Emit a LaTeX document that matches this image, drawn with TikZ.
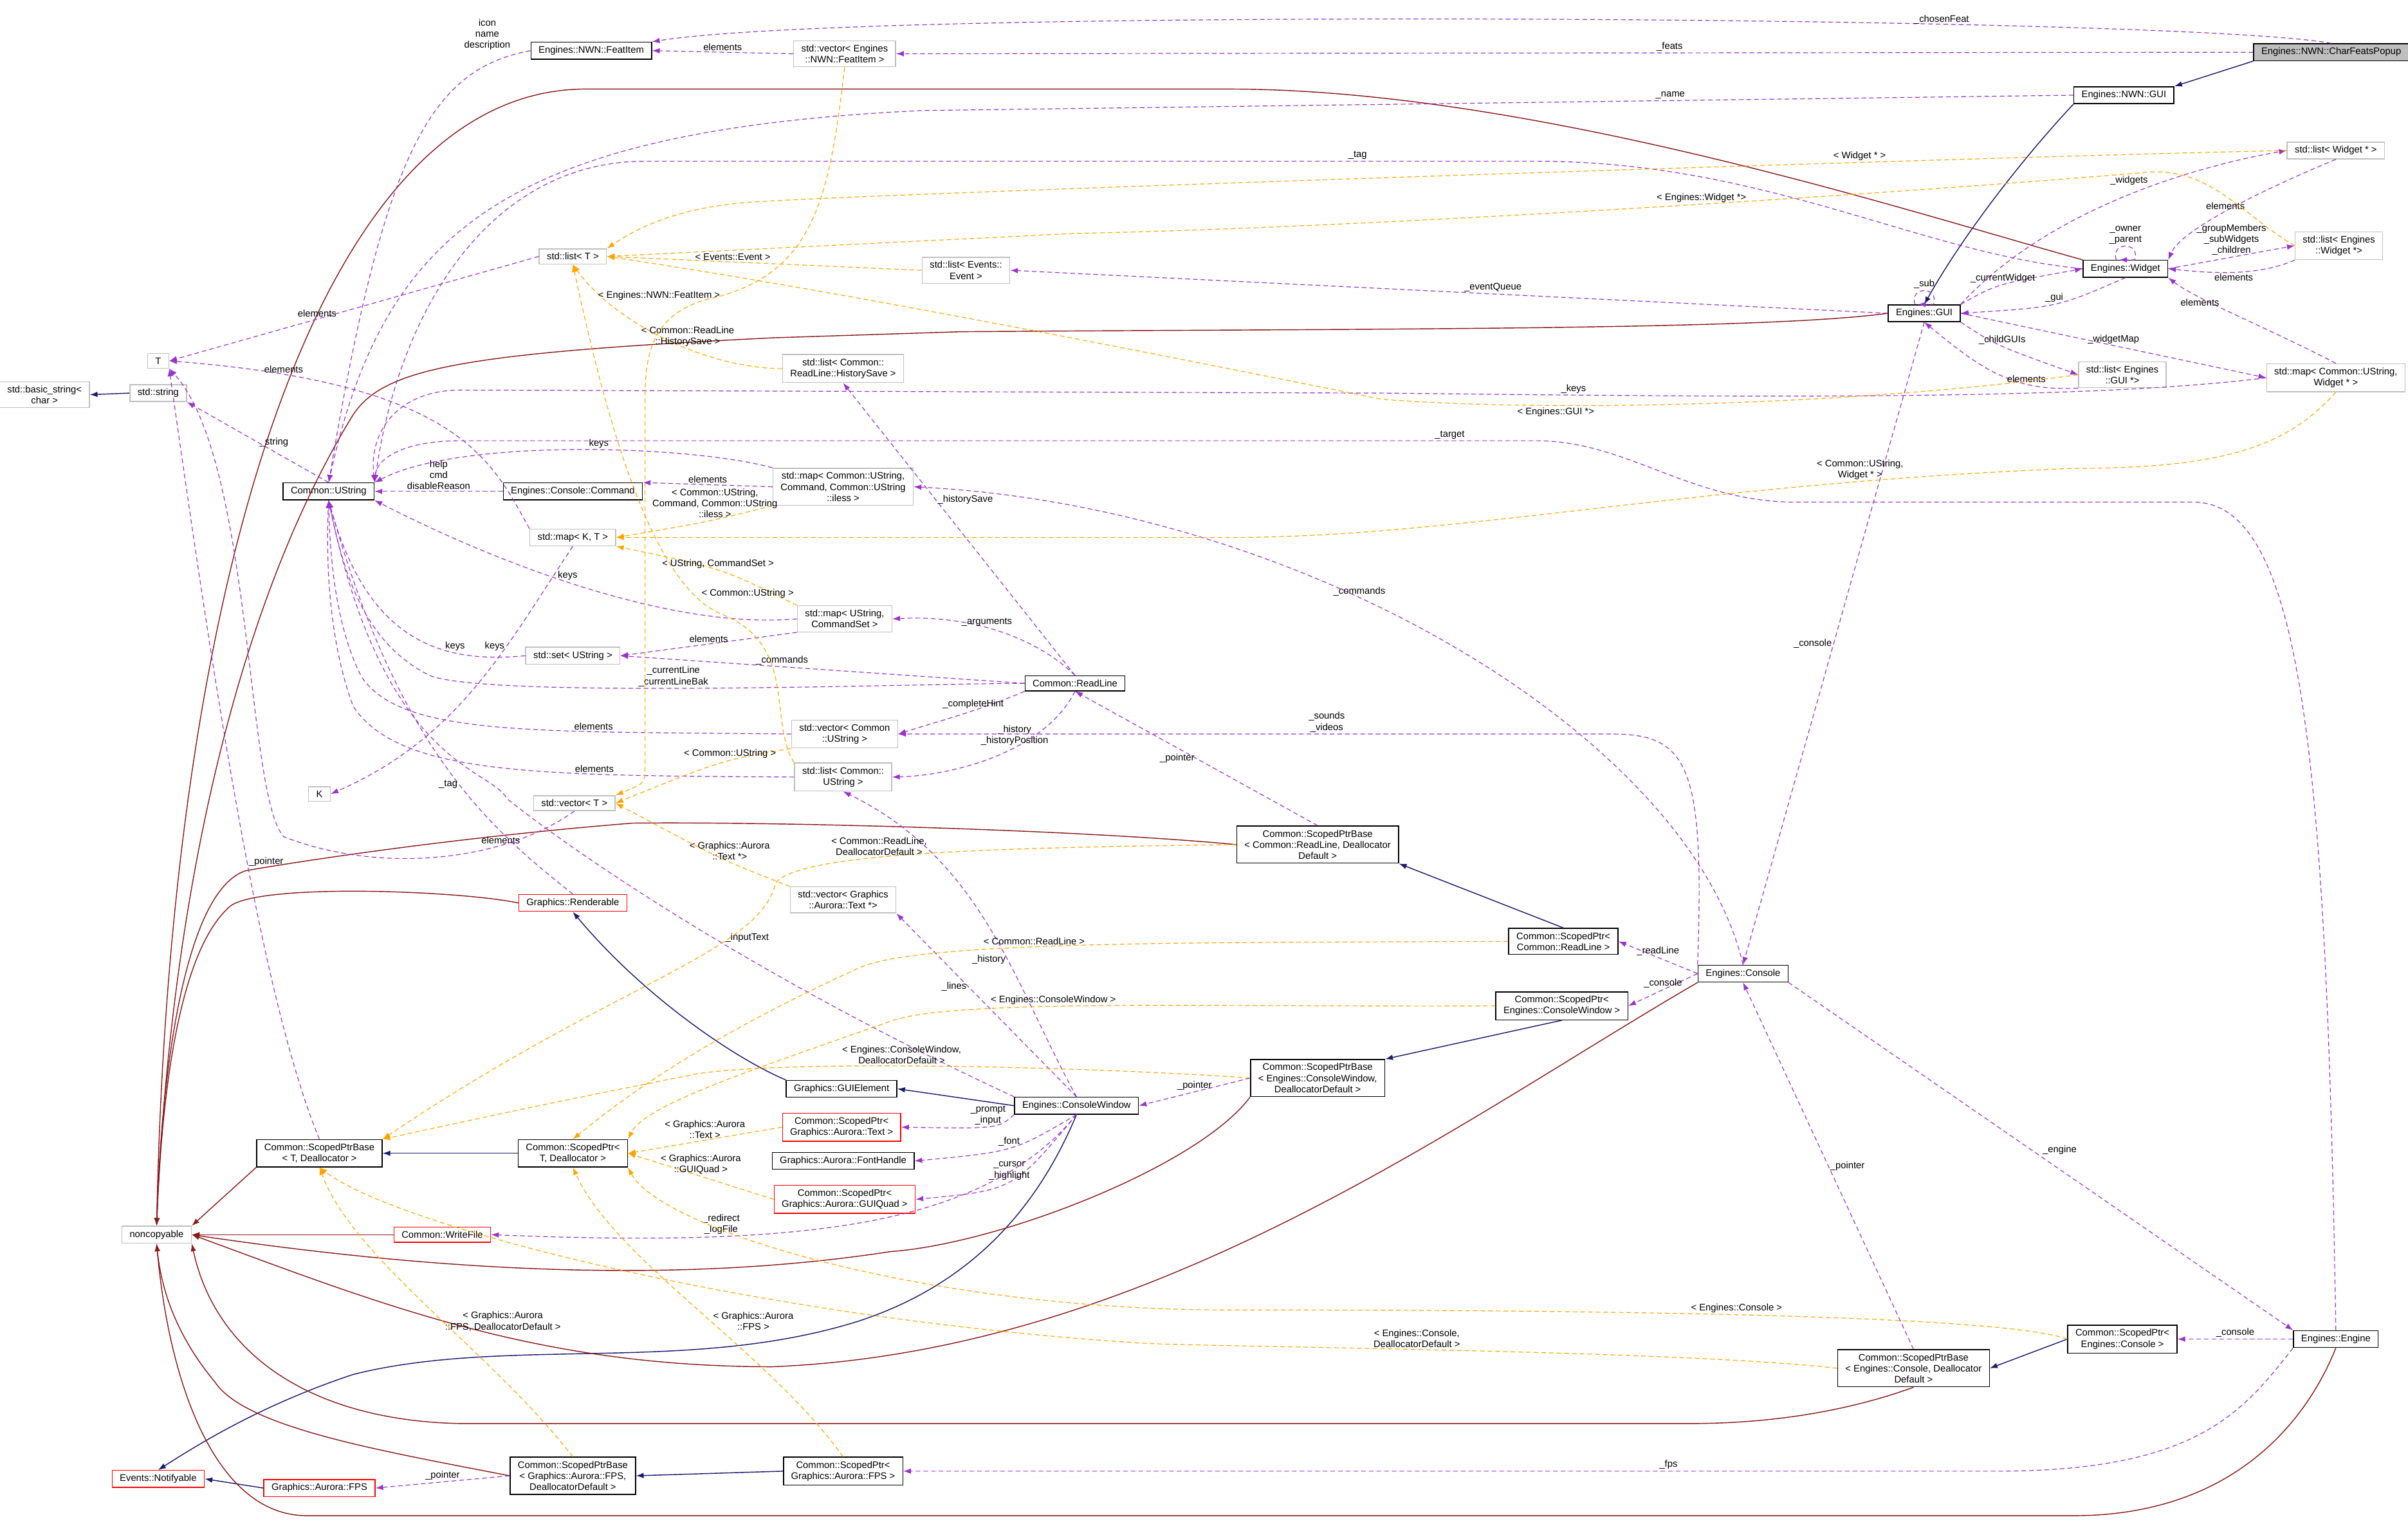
\documentclass[tikz,border=0pt]{standalone}
\usepackage{fontspec}
\setmainfont{Liberation Sans}
\usetikzlibrary{arrows.meta}
\definecolor{usecol}{HTML}{9A32CD}
\definecolor{tplcol}{HTML}{FFA500}
\definecolor{inhcol}{HTML}{191970}
\definecolor{privcol}{HTML}{8B1A1A}
\definecolor{extcol}{HTML}{BFBFBF}
\tikzset{
  box/.style={draw, line width=0.6pt, font=\fontsize{6.2}{7.2}\selectfont, align=center,
    inner xsep=5pt, inner ysep=2.6pt},
  cls/.style={box, draw=black},
  ext/.style={box, draw=extcol},
  redcls/.style={box, draw=red},
  rootcls/.style={box, draw=black, fill=extcol},
  lbl/.style={font=\fontsize{6.2}{7.2}\selectfont, align=center, inner sep=1pt, text=black},
  tip/.style={-{Latex[length=5pt,width=3.6pt]}},
  use/.style={tip, usecol, dashed, dash pattern=on 3pt off 2pt, line width=0.5pt},
  tpl/.style={tip, tplcol, dashed, dash pattern=on 3pt off 2pt, line width=0.5pt},
  inh/.style={tip, inhcol, line width=0.6pt},
  priv/.style={tip, privcol, line width=0.6pt}
}
\begin{document}
\begin{tikzpicture}[x=1pt, y=-1pt]
\useasboundingbox (0,0) rectangle (1568,992);

% classes
\node[rootcls] (popup) at (1518,34) {Engines::NWN::CharFeatsPopup};
\node[cls] (nwngui) at (1383,62) {Engines::NWN::GUI};
\node[cls] (feat) at (385,33) {Engines::NWN::FeatItem};
\node[ext] (vecfeat) at (550,35) {std::vector< Engines\\::NWN::FeatItem >};
\node[ext] (listwp) at (1521,98) {std::list< Widget * >};
\node[ext] (listew) at (1523,160) {std::list< Engines\\::Widget *>};
\node[cls] (widget) at (1384,175) {Engines::Widget};
\node[cls] (gui) at (1253,204) {Engines::GUI};
\node[ext] (listev) at (629,176) {std::list< Events::\\Event >};
\node[ext] (listt) at (373,167) {std::list< T >};
\node[ext] (tt) at (103,235) {T};
\node[ext] (bstr) at (29,257) {std::basic\_string<\\char >};
\node[ext] (str) at (103,256) {std::string};
\node[ext] (lisths) at (549,240) {std::list< Common::\\ReadLine::HistorySave >};
\node[ext] (listgui) at (1382,244) {std::list< Engines\\::GUI *>};
\node[ext] (mapwid) at (1521,246) {std::map< Common::UString,\\Widget * >};
\node[cls] (ustr) at (214,320) {Common::UString};
\node[cls] (cmd) at (373,320) {Engines::Console::Command};
\node[ext] (mapcmd) at (549,317) {std::map< Common::UString,\\Command, Common::UString\\::iless >};
\node[ext] (mapkt) at (373,350) {std::map< K, T >};
\node[ext] (mapcs) at (550,403) {std::map< UString,\\CommandSet >};
\node[ext] (setu) at (373,427) {std::set< UString >};
\node[cls] (readline) at (700,445) {Common::ReadLine};
\node[ext] (vecu) at (550,478) {std::vector< Common\\::UString >};
\node[ext] (listu) at (549,506) {std::list< Common::\\UString >};
\node[ext] (kk) at (208,517) {K};
\node[ext] (vect) at (374,523) {std::vector< T >};
\node[cls] (spbrl) at (858,550) {Common::ScopedPtrBase\\< Common::ReadLine, Deallocator\\Default >};
\node[ext] (vectext) at (549,586) {std::vector< Graphics\\::Aurora::Text *>};
\node[redcls] (rend) at (373,588) {Graphics::Renderable};
\node[cls] (sprl) at (1018,613) {Common::ScopedPtr<\\Common::ReadLine >};
\node[cls] (console) at (1135,634) {Engines::Console};
\node[cls] (spcw) at (1017,655) {Common::ScopedPtr<\\Engines::ConsoleWindow >};
\node[cls] (spbcw) at (858,702) {Common::ScopedPtrBase\\< Engines::ConsoleWindow,\\DeallocatorDefault >};
\node[cls] (guiel) at (548,709) {Graphics::GUIElement};
\node[cls] (cwin) at (701,720) {Engines::ConsoleWindow};
\node[redcls] (sptext) at (548,734) {Common::ScopedPtr<\\Graphics::Aurora::Text >};
\node[cls] (spbtd) at (208,751) {Common::ScopedPtrBase\\< T, Deallocator >};
\node[cls] (sptd) at (373,751) {Common::ScopedPtr<\\T, Deallocator >};
\node[cls] (fonth) at (549,756) {Graphics::Aurora::FontHandle};
\node[redcls] (spquad) at (550,781) {Common::ScopedPtr<\\Graphics::Aurora::GUIQuad >};
\node[ext] (noncopy) at (102,804) {noncopyable};
\node[redcls] (wfile) at (288,804) {Common::WriteFile};
\node[cls] (engine) at (1521,872) {Engines::Engine};
\node[cls] (spcon) at (1382,872) {Common::ScopedPtr<\\Engines::Console >};
\node[cls] (spbcon) at (1246,891) {Common::ScopedPtrBase\\< Engines::Console, Deallocator\\Default >};
\node[redcls] (notif) at (103,963) {Events::Notifyable};
\node[redcls] (fps) at (208,969) {Graphics::Aurora::FPS};
\node[cls] (spbfps) at (373,961) {Common::ScopedPtrBase\\< Graphics::Aurora::FPS,\\DeallocatorDefault >};
\node[cls] (spfps) at (549,958) {Common::ScopedPtr<\\Graphics::Aurora::FPS >};

% inheritance
\draw[inh] (popup.south west) -- (nwngui.north east);
\draw[inh] (nwngui.south west) .. controls (1320,100) and (1280,150) .. (gui.north);
\draw[inh] (str.west) -- (bstr.east);
\draw[inh] (sprl.north) -- (spbrl.south east);
\draw[inh] (spcw.south) -- (spbcw.north east);
\draw[inh] (cwin.west) -- (guiel.east);
\draw[inh] (guiel.north west) .. controls (480,690) and (420,650) .. (rend.south);
\draw[inh] (sptd.west) -- (spbtd.east);
\draw[inh] (spcon.west) -- (spbcon.east);
\draw[inh] (spfps.west) -- (spbfps.east);
\draw[inh] (fps.west) -- (notif.east);
\draw[inh] (cwin.south) .. controls (670,800) and (620,840) .. (560,860) .. controls (450,895) and (330,870) .. (230,895) .. controls (170,915) and (130,940) .. (notif.north);

% private inheritance
\draw[priv] (widget.north west) .. controls (1250,140) and (1000,58) .. (800,58) -- (380,58) .. controls (200,60) and (110,400) .. (noncopy.north);
\draw[priv] (gui.west) .. controls (1150,215) and (900,214) .. (626,216) -- (503,220) .. controls (300,230) and (250,240) .. (230,270) .. controls (150,400) and (110,600) .. (noncopy.north);
\draw[priv] (spbrl.west) .. controls (700,540) and (500,535) .. (412,536) .. controls (300,545) and (200,560) .. (160,567) .. controls (120,580) and (105,700) .. (noncopy.north);
\draw[priv] (rend.west) .. controls (300,580) and (170,575) .. (150,590) .. controls (115,620) and (105,720) .. (noncopy.north);
\draw[priv] (spbtd.south west) -- (noncopy.north east);
\draw[priv] (wfile.west) -- (noncopy.east);
\draw[priv] (spbcw.south west) .. controls (780,760) and (650,810) .. (580,815) .. controls (450,835) and (300,830) .. (noncopy.east);
\draw[priv] (console.south west) .. controls (950,730) and (750,880) .. (503,890) .. controls (350,890) and (250,850) .. (noncopy.east);
\draw[priv] (spbcon.south) .. controls (1200,920) and (1150,927) .. (1100,927) -- (300,927) .. controls (200,925) and (140,880) .. (noncopy.south east);
\draw[priv] (spbfps.west) .. controls (250,945) and (160,930) .. (140,900) .. controls (115,870) and (105,840) .. (noncopy.south);
\draw[priv] (engine.south) .. controls (1500,930) and (1450,987) .. (1350,987) -- (200,987) .. controls (140,987) and (110,900) .. (noncopy.south);

% usage
\draw[use] (popup.north) .. controls (1420,10) and (560,5) .. node[lbl,pos=.3,above=-1pt]{\_chosenFeat} (feat.north east);
\draw[use] (popup.west) -- node[lbl,pos=.43,above]{\_feats} (vecfeat.east);
\draw[use] (vecfeat.west) -- node[lbl,above]{elements} (feat.east);
\draw[use] (feat.west) .. controls (280,45) and (250,100) .. node[lbl,pos=.02,above left,xshift=-8pt]{icon\\name\\description} (ustr.north);
\draw[use] (nwngui.west) -- node[lbl,pos=.35,above]{\_name} (600,72) .. controls (330,85) and (250,150) .. (ustr.north);
\draw[use] (widget.west) .. controls (1250,165) and (1150,105) .. (1000,105) -- node[lbl,pos=.2,above]{\_tag} (420,105) .. controls (320,105) and (260,200) .. (ustr.north east);
\draw[use] ([xshift=-6pt]widget.north) .. controls +(-4,-12) and +(4,-12) .. node[lbl,above]{\_owner\\\_parent} ([xshift=6pt]widget.north) -- ([xshift=-4pt]widget.north);
\draw[use] (gui.north east) .. controls (1330,140) and (1420,110) .. node[lbl,pos=.6,above left]{\_widgets} (listwp.west);
\draw[use] (listwp.south) .. controls (1470,125) and (1420,150) .. node[lbl,pos=.4,below left]{elements} (widget.north east);
\draw[use] (widget.east) -- node[lbl,above]{\_groupMembers\\\_subWidgets\\\_children} (listew.west);
\draw[use] (listew.south west) .. controls (1470,180) and (1440,178) .. node[lbl,pos=.5,below]{elements} (widget.east);
\draw[use] (gui.north east) .. controls (1300,185) .. node[lbl,above]{\_currentWidget} (widget.west);
\draw[use] (widget.south) .. controls (1340,200) .. node[lbl,above]{\_gui} (gui.east);
\draw[use] ([xshift=-6pt]gui.north) .. controls +(-4,-12) and +(4,-12) .. node[lbl,above]{\_sub} ([xshift=6pt]gui.north) -- ([xshift=-4pt]gui.north);
\draw[use] (gui.west) -- node[lbl,pos=.45,above]{\_eventQueue} (listev.east);
\draw[use] (gui.south east) .. controls (1300,225) .. node[lbl,above]{\_childGUIs} (listgui.west);
\draw[use] (listgui.south west) .. controls (1310,255) and (1290,240) .. node[lbl,pos=.3,above]{elements} (gui.south);
\draw[use] (gui.east) -- node[lbl,above]{\_widgetMap} (mapwid.west);
\draw[use] (mapwid.north) .. controls (1480,215) and (1430,195) .. node[lbl,pos=.6,above left]{elements} (widget.south east);
\draw[use] (mapwid.west) .. controls (1350,262) and (1100,258) .. node[lbl,pos=.8,above]{\_keys} (900,256) -- (300,254) .. controls (260,254) and (240,280) .. (ustr.north east);
\draw[use] (engine.north) .. controls (1515,500) and (1500,330) .. (1430,327) -- (1170,327) .. controls (1100,327) and (1060,287) .. (1000,287) -- node[lbl,pos=.08,above]{\_target} (300,287) .. controls (260,287) and (245,300) .. (ustr.north east);
\draw[use] (gui.south) -- node[lbl,pos=.5,left]{\_console} (console.north);
\draw[use] (listt.west) -- node[lbl,pos=.6,above]{elements} (tt.east);
\draw[use] (mapkt.north west) .. controls (320,300) and (300,250) .. node[lbl,pos=.85,above]{elements} (tt.east);
\draw[use] (mapkt.south) .. controls (330,420) and (300,480) .. node[lbl,pos=.35,left]{keys} (kk.east);
\draw[use] (vect.south) .. controls (330,560) and (250,570) .. node[lbl,pos=.3,above]{elements} (185,545) .. controls (160,520) and (165,300) .. (tt.south east);
\draw[use] (ustr.north) -- node[lbl,pos=.5,right]{\_string} (str.south east);
\draw[use] (cmd.west) -- node[lbl,above]{help\\cmd\\disableReason} (ustr.east);
\draw[use] (mapcmd.west) -- node[lbl,above]{elements} (cmd.north east);
\draw[use] (mapcmd.north west) .. controls (450,290) and (300,285) .. node[lbl,pos=.45,above]{keys} (ustr.north east);
\draw[use] (mapcs.west) .. controls (440,410) and (330,370) .. node[lbl,pos=.55,above]{keys} (ustr.south east);
\draw[use] (setu.west) .. controls (290,432) and (240,420) .. node[lbl,pos=.3,above]{keys} (ustr.south);
\draw[use] (mapcs.south west) -- node[lbl,above]{elements} (setu.east);
\draw[use] (readline.north) .. controls (680,420) and (640,400) .. node[lbl,pos=.6,above]{\_arguments} (mapcs.east);
\draw[use] (readline.west) -- node[lbl,pos=.6,above]{\_commands} (setu.east);
\draw[use] (readline.west) .. controls (600,445) and (320,455) .. node[lbl,pos=.55,above]{\_currentLine\\\_currentLineBak} (280,440) .. controls (240,420) and (225,380) .. (ustr.south);
\draw[use] (readline.south west) .. controls (640,462) and (610,470) .. node[lbl,pos=.4,above]{\_completeHint} (vecu.east);
\draw[use] (readline.south) .. controls (680,490) and (620,505) .. node[lbl,pos=.4,above]{\_history\\\_historyPosition} (listu.east);
\draw[use] (readline.north) -- node[lbl,pos=.6,right]{\_historySave} (lisths.south);
\draw[use] (vecu.west) .. controls (350,476) and (260,480) .. node[lbl,pos=.3,above]{elements} (235,440) .. controls (220,410) and (215,370) .. (ustr.south);
\draw[use] (listu.west) .. controls (350,505) and (260,505) .. node[lbl,pos=.3,above]{elements} (230,460) .. controls (215,420) and (212,370) .. (ustr.south);
\draw[use] (console.north west) .. controls (1110,500) and (1100,478) .. (1050,478) -- node[lbl,pos=.4,above]{\_sounds\\\_videos} (vecu.east);
\draw[use] (console.north) .. controls (1100,480) and (850,330) .. node[lbl,pos=.6,above]{\_commands} (mapcmd.east);
\draw[use] (spbrl.north) -- node[lbl,pos=.5,left]{\_pointer} (readline.south);
\draw[use] (cwin.north) .. controls (660,640) and (640,560) .. node[lbl,pos=.4,left]{\_history} (listu.south);
\draw[use] (cwin.north) -- node[lbl,pos=.6,left]{\_lines} (vectext.south east);
\draw[use] (cwin.north west) .. controls (500,640) and (380,560) .. node[lbl,pos=.45,above right]{\_inputText} (330,520) .. controls (320,500) and (250,500) .. (ustr.south);
\draw[use] (cwin.south west) .. controls (650,735) .. node[lbl,pos=.5,above]{\_prompt\\\_input} (sptext.east);
\draw[use] (cwin.south) .. controls (660,750) .. node[lbl,pos=.5,above]{\_font} (fonth.east);
\draw[use] (cwin.south) .. controls (660,775) .. node[lbl,pos=.5,above]{\_cursor\\\_highlight} (spquad.east);
\draw[use] (cwin.south) .. controls (640,800) and (520,812) .. node[lbl,pos=.72,above]{\_redirect\\\_logFile} (wfile.east);
\draw[use] (spbcw.west) -- node[lbl,above]{\_pointer} (cwin.east);
\draw[use] (console.west) -- node[lbl,above]{\_readLine} (sprl.east);
\draw[use] (console.west) -- node[lbl,above]{\_console} (spcw.east);
\draw[use] (console.south east) -- node[lbl,pos=.5,above right]{\_engine} (engine.north west);
\draw[use] (spbcon.north) -- node[lbl,pos=.5,right]{\_pointer} (console.south);
\draw[use] (engine.west) -- node[lbl,above]{\_console} (spcon.east);
\draw[use] (engine.south west) .. controls (1460,920) and (1430,958) .. (1300,958) -- node[lbl,pos=.3,above]{\_fps} (spfps.east);
\draw[use] (spbfps.west) -- node[lbl,above]{\_pointer} (fps.east);
\draw[use] (spbtd.north) .. controls (170,650) and (140,450) .. node[lbl,pos=.45,right]{\_pointer} (tt.south east);
\draw[use] (rend.north) .. controls (320,540) and (260,490) .. node[lbl,pos=.45,left]{\_tag} (ustr.south);

% template instances
\draw[tpl] (listwp.west) .. controls (1300,102) and (600,125) .. node[lbl,pos=.3,above]{< Widget * >} (500,131) .. controls (450,133) and (420,145) .. (listt.north east);
\draw[tpl] (listew.west) .. controls (1460,140) and (1440,110) .. (1400,112) .. controls (1250,125) and (900,148) .. node[lbl,pos=.45,above]{< Engines::Widget *>} (700,152) -- (listt.east);
\draw[tpl] (listev.west) -- node[lbl,pos=.6,above]{< Events::Event >} (listt.east);
\draw[tpl] (listgui.west) .. controls (1200,265) and (1000,268) .. node[lbl,pos=.7,below]{< Engines::GUI *>} (900,260) .. controls (750,230) and (550,190) .. (listt.east);
\draw[tpl] (lisths.west) .. controls (460,240) and (400,210) .. node[lbl,pos=.4,above]{< Common::ReadLine\\::HistorySave >} (listt.south);
\draw[tpl] (vecfeat.south) .. controls (540,130) and (530,180) .. node[lbl,pos=.95,left]{< Engines::NWN::FeatItem >} (460,195) .. controls (425,205) and (420,230) .. (420,260) -- (420,500) .. controls (420,510) .. (vect.north east);
\draw[tpl] (mapcmd.south west) .. controls (460,340) .. node[lbl,pos=.4,above]{< Common::UString,\\Command, Common::UString\\::iless >} (mapkt.east);
\draw[tpl] (mapwid.south) .. controls (1490,290) and (1450,305) .. (1350,305) .. controls (1100,315) and (950,350) .. node[lbl,pos=.2,above]{< Common::UString,\\Widget * >} (800,350) -- (mapkt.east);
\draw[tpl] (mapcs.north west) .. controls (470,370) .. node[lbl,pos=.5,above]{< UString, CommandSet >} (mapkt.south east);
\draw[tpl] (vecu.south west) .. controls (470,495) .. node[lbl,pos=.4,above]{< Common::UString >} (vect.east);
\draw[tpl] (listu.north west) .. controls (500,470) and (520,420) .. (470,400) .. controls (420,380) and (390,250) .. node[lbl,pos=.1,above right]{< Common::UString >} (listt.south);
\draw[tpl] (vectext.north west) .. controls (470,560) .. node[lbl,pos=.4,above]{< Graphics::Aurora\\::Text *>} (vect.east);
\draw[tpl] (spbrl.west) .. controls (650,552) and (520,555) .. node[lbl,pos=.6,above]{< Common::ReadLine,\\DeallocatorDefault >} (505,575) .. controls (495,620) and (400,640) .. (spbtd.north east);
\draw[tpl] (sprl.west) .. controls (800,614) and (600,612) .. node[lbl,pos=.6,above]{< Common::ReadLine >} (560,630) .. controls (450,680) and (400,720) .. (sptd.north);
\draw[tpl] (spcw.west) .. controls (800,656) and (620,650) .. node[lbl,pos=.6,above]{< Engines::ConsoleWindow >} (580,665) .. controls (480,700) and (420,720) .. (sptd.north east);
\draw[tpl] (spbcw.west) .. controls (700,694) and (500,690) .. node[lbl,pos=.55,above]{< Engines::ConsoleWindow,\\DeallocatorDefault >} (450,700) .. controls (350,720) .. (spbtd.north east);
\draw[tpl] (sptext.west) -- node[lbl,pos=.5,above]{< Graphics::Aurora\\::Text >} (sptd.east);
\draw[tpl] (spquad.west) -- node[lbl,pos=.5,above]{< Graphics::Aurora\\::GUIQuad >} (sptd.east);
\draw[tpl] (spbfps.north) .. controls (320,880) and (230,820) .. node[lbl,pos=.45,right]{< Graphics::Aurora\\::FPS, DeallocatorDefault >} (spbtd.south);
\draw[tpl] (spfps.north) .. controls (500,880) and (400,820) .. node[lbl,pos=.45,right]{< Graphics::Aurora\\::FPS >} (sptd.south);
\draw[tpl] (spcon.west) .. controls (1300,855) and (1000,853) .. node[lbl,pos=.5,above]{< Engines::Console >} (800,853) .. controls (600,853) and (430,800) .. (sptd.south east);
\draw[tpl] (spbcon.west) .. controls (1100,880) and (850,878) .. node[lbl,pos=.6,above]{< Engines::Console,\\DeallocatorDefault >} (750,875) .. controls (500,860) and (260,800) .. (spbtd.south);
\end{tikzpicture}
\end{document}
